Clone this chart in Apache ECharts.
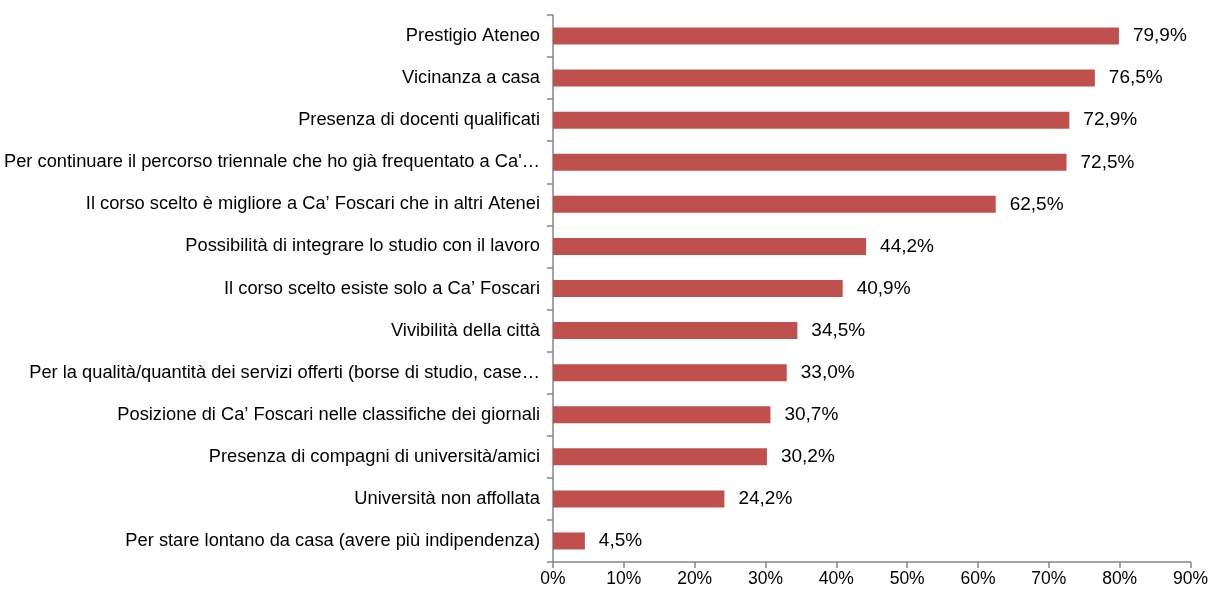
<!DOCTYPE html>
<html>
<head>
<meta charset="utf-8">
<script src="https://cdn.jsdelivr.net/npm/echarts@6/dist/echarts.min.js"></script>
<style>
  html, body { margin: 0; padding: 0; background: #fff; }
  #chart { width: 1211px; height: 590px; }
</style>
</head>
<body>
<div id="chart"></div>
<script>
// categories listed top to bottom as in the picture
const motivi = [
  "Prestigio Ateneo",
  "Vicinanza a casa",
  "Presenza di docenti qualificati",
  "Per continuare il percorso triennale che ho già frequentato a Ca'…",
  "Il corso scelto è migliore a Ca’ Foscari che in altri Atenei",
  "Possibilità di integrare lo studio con il lavoro",
  "Il corso scelto esiste solo a Ca’ Foscari",
  "Vivibilità della città",
  "Per la qualità/quantità dei servizi offerti (borse di studio, case…",
  "Posizione di Ca’ Foscari nelle classifiche dei giornali",
  "Presenza di compagni di università/amici",
  "Università non affollata",
  "Per stare lontano da casa (avere più indipendenza)"
];
const percentuali = [79.9, 76.5, 72.9, 72.5, 62.5, 44.2, 40.9, 34.5, 33.0, 30.7, 30.2, 24.2, 4.5];

const axisGray = "#868686";
const barColor = "#C0504D";

const chart = echarts.init(document.getElementById("chart"));
chart.setOption({
  animation: false,
  textStyle: { fontFamily: "Liberation Sans, Arial, sans-serif" },
  grid: { left: 553, right: 19, top: 15, bottom: 28, containLabel: false },
  xAxis: {
    type: "value",
    min: 0,
    max: 90,
    interval: 10,
    axisLine: { show: true, lineStyle: { color: axisGray, width: 1.5 } },
    axisTick: { show: true, length: 6, lineStyle: { color: axisGray, width: 1.5 } },
    splitLine: { show: false },
    axisLabel: {
      formatter: "{value}%",
      color: "#000",
      fontSize: 17.5,
      margin: 8
    }
  },
  yAxis: {
    type: "category",
    inverse: true,
    data: motivi,
    axisLine: { show: true, lineStyle: { color: axisGray, width: 1.5 } },
    axisTick: { show: true, length: 6, lineStyle: { color: axisGray, width: 1.5 } },
    axisLabel: { color: "#000", fontSize: 18.3, margin: 13 }
  },
  series: [
    {
      type: "bar",
      data: percentuali,
      barWidth: 17,
      itemStyle: { color: barColor },
      label: {
        show: true,
        position: "right",
        distance: 14,
        color: "#000",
        fontSize: 19,
        formatter: p => p.value.toFixed(1).replace(".", ",") + "%"
      }
    }
  ]
});
</script>
</body>
</html>
